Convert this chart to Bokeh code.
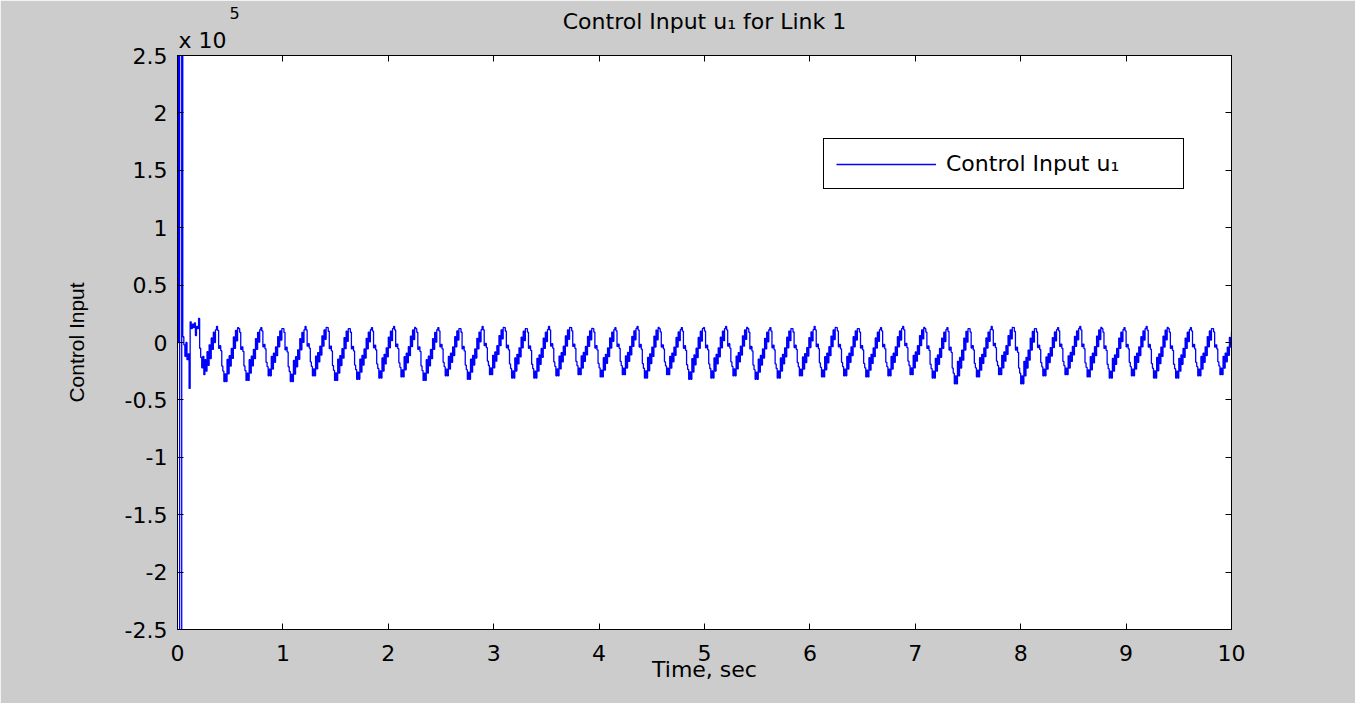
import numpy as np
from bokeh.plotting import figure
from bokeh.models import LinearAxis, FixedTicker, Legend, LegendItem, Range1d, Title
from bokeh.embed import file_html
from bokeh.resources import INLINE

# ---------------- data (values in units of 1e5) ----------------
sample_time = 0.01  # s

# start-up transient, one value per sample (t = 0 ... 0.36 s)
transient_u = [0.0, 6.0, -6.0, -6.0, 6.0, 0.05, -0.02, -0.12, 0.0, -0.15,
               -0.10, -0.40, 0.18, 0.12, 0.16, 0.13, 0.17, 0.06, 0.14, 0.12,
               0.21, -0.05, -0.13, -0.22, -0.12, -0.28, -0.15, -0.25, -0.08, -0.20,
               -0.02, -0.14, 0.04, -0.06, 0.09, 0.00, 0.11]

# shape of one steady-state cycle (0 = trough, 1 = peak), 21 samples
cycle_shape = [1.00, 0.93, 0.60, 0.65, 0.56, 0.28, 0.19, 0.00, 0.14, 0.00,
               0.40, 0.14, 0.47, 0.28, 0.60, 0.42, 0.81, 0.60, 0.93, 0.74, 0.98]

# peak and trough of each of the 46 steady-state cycles
cycle_peak = [0.14, 0.12, 0.13, 0.12, 0.14, 0.13, 0.12, 0.13, 0.14, 0.12,
              0.13, 0.12, 0.14, 0.13, 0.12, 0.14, 0.13, 0.12, 0.13, 0.14,
              0.12, 0.13, 0.13, 0.14, 0.12, 0.13, 0.12, 0.14, 0.13, 0.12,
              0.13, 0.14, 0.12, 0.13, 0.12, 0.14, 0.13, 0.12, 0.13, 0.14,
              0.12, 0.13, 0.14, 0.12, 0.13, 0.12]
cycle_trough = [-0.34, -0.33, -0.29, -0.34, -0.29, -0.33, -0.32, -0.31, -0.30, -0.33,
                -0.29, -0.32, -0.28, -0.31, -0.31, -0.29, -0.28, -0.30, -0.28, -0.31,
                -0.28, -0.32, -0.31, -0.29, -0.32, -0.31, -0.29, -0.30, -0.29, -0.30,
                -0.29, -0.28, -0.31, -0.36, -0.30, -0.28, -0.36, -0.29, -0.28, -0.30,
                -0.31, -0.29, -0.31, -0.31, -0.29, -0.28]

x_ticks = [0, 1, 2, 3, 4, 5, 6, 7, 8, 9, 10]
x_tick_labels = ["0", "1", "2", "3", "4", "5", "6", "7", "8", "9", "10"]
y_ticks = [-2.5, -2.0, -1.5, -1.0, -0.5, 0.0, 0.5, 1.0, 1.5, 2.0, 2.5]
y_tick_labels = ["-2.5", "-2", "-1.5", "-1", "-0.5", "0", "0.5", "1", "1.5", "2", "2.5"]

u = list(transient_u)
for pk, tr in zip(cycle_peak, cycle_trough):
    u.extend(tr + (pk - tr) * s for s in cycle_shape)
u = np.array(u[:1001])
t = np.arange(len(u)) * sample_time

# ---------------- figure ----------------
FONT = "DejaVu Sans"
GREY = "#cccccc"

p = figure(frame_width=1054, frame_height=574,
           x_range=Range1d(0, 10), y_range=Range1d(-2.5, 2.5),
           output_backend="svg", toolbar_location=None,
           background_fill_color="white", border_fill_color=GREY,
           min_border_left=177, min_border_right=124,
           min_border_top=55, min_border_bottom=74)
p.grid.visible = False
p.outline_line_color = "black"
p.outline_line_width = 1

r = p.step(t, u, mode="after", line_color="#0000ff", line_width=1.3)

def style_axis(ax, ticks, labels, show_labels=True):
    ax.ticker = FixedTicker(ticks=ticks)
    if show_labels:
        ax.major_label_overrides = {k: v for k, v in zip(ticks, labels)}
        ax.major_label_text_font_size = "22px"
    else:
        ax.major_label_overrides = {k: "" for k in ticks}
        ax.major_label_text_font_size = "0px"
    ax.axis_line_color = "black"
    ax.major_tick_line_color = "black"
    ax.major_tick_in = 6
    ax.major_tick_out = 0
    ax.minor_tick_line_color = None
    ax.major_label_text_font = FONT
    ax.major_label_text_color = "black"

style_axis(p.xaxis[0], x_ticks, x_tick_labels)
style_axis(p.yaxis[0], y_ticks, y_tick_labels)
p.xaxis[0].major_label_standoff = 15
p.yaxis[0].major_label_standoff = 10

p.xaxis[0].axis_label = "Time, sec"
p.xaxis[0].axis_label_text_font = FONT
p.xaxis[0].axis_label_text_font_size = "22px"
p.xaxis[0].axis_label_text_font_style = "normal"
p.xaxis[0].axis_label_text_color = "black"
p.xaxis[0].axis_label_standoff = -7

p.yaxis[0].axis_label = "Control Input"
p.yaxis[0].axis_label_text_font = "Liberation Sans"
p.yaxis[0].axis_label_text_font_size = "21px"
p.yaxis[0].axis_label_text_font_style = "normal"
p.yaxis[0].axis_label_text_color = "black"
p.yaxis[0].axis_label_standoff = 34

top_ax = LinearAxis()
style_axis(top_ax, x_ticks, x_tick_labels, show_labels=False)
top_ax.major_label_standoff = 0
p.add_layout(top_ax, "above")

right_ax = LinearAxis()
style_axis(right_ax, y_ticks, y_tick_labels, show_labels=False)
right_ax.major_label_standoff = 0
p.add_layout(right_ax, "right")

# multiplier "x 10^5" (closest to the frame), main title, then the exponent digit
p.add_layout(Title(text="x 10", align="left", offset=1, standoff=5,
                   text_font=FONT, text_font_size="22px", text_font_style="normal",
                   text_color="black"), "above")
p.add_layout(Title(text="Control Input u\u2081 for Link 1", align="center", standoff=-20,
                   text_font=FONT, text_font_size="22px", text_font_style="normal",
                   text_color="black"), "above")
p.add_layout(Title(text="5", align="left", offset=52, standoff=-4,
                   text_font=FONT, text_font_size="16px", text_font_style="normal",
                   text_color="black"), "above")

legend = Legend(items=[LegendItem(label="Control Input u\u2081", renderers=[r])],
                location=(646, 440), orientation="vertical",
                label_text_font=FONT, label_text_font_size="22px", label_text_color="black",
                border_line_color="black", border_line_width=1, border_line_alpha=1,
                background_fill_color="white", background_fill_alpha=1,
                padding=12, margin=0, spacing=0,
                glyph_width=100, glyph_height=20, label_standoff=10, label_width=225)
p.add_layout(legend)

html = file_html(p, INLINE)
html = html.replace("<body>", '<body style="background-color:#cccccc;">', 1)
open("out.html", "w").write(html)
